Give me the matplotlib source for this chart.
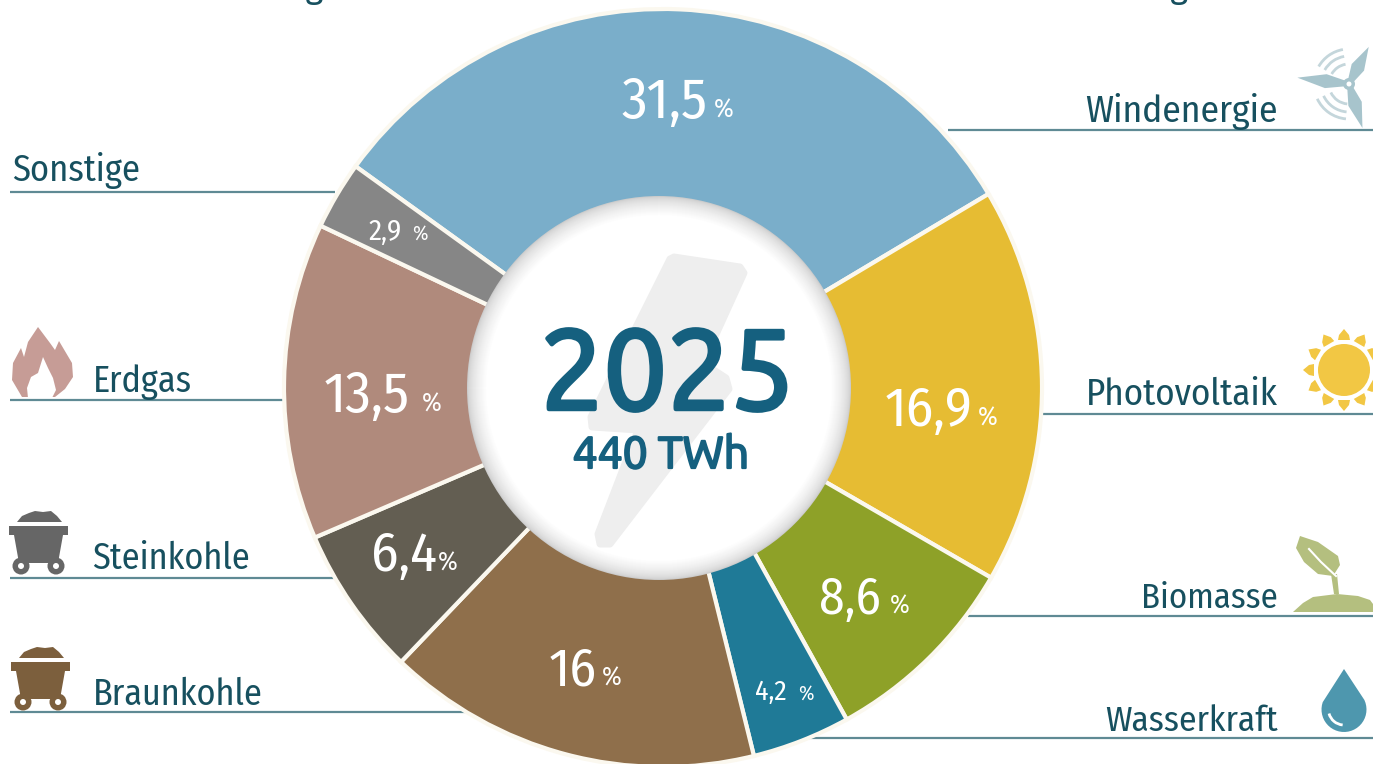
import matplotlib
matplotlib.use("Agg")
import matplotlib.pyplot as plt
import matplotlib.patheffects as pe
from matplotlib.patches import Polygon, Circle, Arc
import numpy as np

categories = ["Windenergie", "Photovoltaik", "Biomasse", "Wasserkraft",
              "Braunkohle", "Steinkohle", "Erdgas", "Sonstige"]
values = [31.5, 16.9, 8.6, 4.2, 16.0, 6.4, 13.5, 2.9]
value_labels = ["31,5", "16,9", "8,6", "4,2", "16", "6,4", "13,5", "2,9"]
colors = ["#7aaeca", "#e6bc33", "#8ea128", "#1f7a97", "#8f6f4b", "#635e52", "#b08a7c", "#868686"]
center_year = "2025"
center_total = "440 TWh"
group_headers = ["Fossile Energien", "Erneuerbare Energien"]

COND = "Fira Sans Condensed"
MAIN = "Ubuntu"
TEAL = "#17505f"
BLUE = "#15607f"
LINE = "#5f8a94"

W, H = 1373, 764
fig = plt.figure(figsize=(W/100, H/100), dpi=100, facecolor="white")
ax = fig.add_axes([0, 0, 1, 1])
def Y(y): return H - y

cx, cy, R = 663, 388, 379
dx, dy, r = 659, 388, 192

# leader lines
lines = [(10, 335, 192), (10, 284, 400), (10, 335, 578), (10, 465, 712),
         (948, 1373, 130), (1042, 1373, 414), (968, 1373, 616), (800, 1373, 738)]
for x0, x1, y in lines:
    ax.plot([x0, x1], [Y(y), Y(y)], color=LINE, lw=1.6, zorder=1, solid_capstyle="butt")

ax.pie(values, colors=colors, startangle=144.2, counterclock=False,
       center=(cx, Y(cy)), radius=R, frame=True,
       wedgeprops=dict(edgecolor="#fbf8ef", linewidth=3, zorder=2))
ax.set_xlim(0, W); ax.set_ylim(0, H); ax.axis("off")

# inner disc, grey at its rim and fading to white inward
n = 20
for i in range(n):
    g = 0.80 + 0.20 * (i / (n - 1)) ** 0.6
    ax.add_patch(Circle((dx, Y(dy)), r - i, fc=(g, g, g), ec="none", zorder=3 + i * 0.01))
ax.add_patch(Circle((dx, Y(dy)), r - n, fc="white", ec="none", zorder=4))

# lightning bolt watermark
bolt = [(674,257),(740,267),(744,273),(703,363),(726,378),(729,389),(610,544),(600,544),(598,534),
        (638,430),(592,427),(591,417),(670,259)]
ax.add_patch(Polygon([(x, Y(y)) for x, y in bolt], closed=True, fc="#eeeeee", ec="#eeeeee", lw=5, joinstyle="round", zorder=5))

ax.text(667, Y(409), center_year, fontsize=81, family=MAIN, color=BLUE, ha="center", va="baseline", zorder=6,
        path_effects=[pe.withStroke(linewidth=3.2, foreground=BLUE)])
ax.text(661, Y(468), center_total, fontsize=32, family=MAIN, color=BLUE, ha="center", va="baseline", zorder=6,
        path_effects=[pe.withStroke(linewidth=1.6, foreground=BLUE)])

# value labels: (number right edge, baseline, size, pct left, pct size)
lab = [(708,118,41,714,19),(972,426,40,978,19),(881,614,37,890,19),(787,700,20,798,15),
       (597,686,39,602,19),(437,571,40,438,19),(410,412,41,422,19),(402,240,21,412,15)]
for t, (xr, yb, fs, xp, ps) in zip(value_labels, lab):
    ax.text(xr, Y(yb), t, fontsize=fs, family=COND, color="white", ha="right", va="baseline", zorder=6)
    ax.text(xp, Y(yb), "%", fontsize=ps, family=COND, color="white", ha="left", va="baseline", zorder=6)

# category labels
cat_pos = {"Sonstige": (12,181,"left",26.2), "Erdgas": (93,392,"left",26), "Steinkohle": (92,569,"left",26),
           "Braunkohle": (93,705,"left",26), "Windenergie": (1278,122,"right",27),
           "Photovoltaik": (1278,405,"right",26.6), "Biomasse": (1278,608,"right",25), "Wasserkraft": (1278,731,"right",25.5)}
for name in categories:
    x, y, ha, fs = cat_pos[name]
    ax.text(x, Y(y), name, fontsize=fs, family=COND, color=TEAL, ha=ha, va="baseline", zorder=6)

# headers, cut off by the upper edge as in the source
ax.text(122, Y(-3), group_headers[0], fontsize=27, family=COND, color=TEAL, ha="left", va="baseline", zorder=6)
ax.text(903, Y(-3), group_headers[1], fontsize=27, family=COND, color=TEAL, ha="left", va="baseline", zorder=6)

# icons
def poly(pts, c, z=6):
    ax.add_patch(Polygon([(x, Y(y)) for x, y in pts], closed=True, fc=c, ec="none", zorder=z))
def circ(x, y, rad, c, z=6):
    ax.add_patch(Circle((x, Y(y)), rad, fc=c, ec="none", zorder=z))

def cart(x0, y0, c):
    poly([(x0+8,y0+12),(x0+13,y0+6),(x0+20,y0+3),(x0+26,y0+1),(x0+34,y0+2),(x0+42,y0+1),(x0+48,y0+6),(x0+53,y0+12)], c)
    poly([(x0,y0+16),(x0+59,y0+16),(x0+59,y0+25),(x0+54,y0+25),(x0+49,y0+53),(x0+10,y0+53),(x0+5,y0+25),(x0,y0+25)], c)
    for d in (12, 47):
        circ(x0+d, y0+56, 8.5, c, 7); circ(x0+d, y0+56, 3, "white", 8)
cart(9, 510, "#666666")
cart(11, 646, "#7c5f3d")

# flame
flame = [(38,327),(50,343),(55,350),(59,341),(72,363),(73,377),(65,389),(55,397),(22,397),
         (12,380),(13,363),(21,348),(24,357),(28,342)]
poly(flame, "#c69c96")
poly([(43,357),(48,368),(53,378),(56,390),(52,398),(28,398),(27,388),(31,377),(38,373)], "white", 7)

# turbine
hub = (1349, 84)
for ang, ln in ((173, 52), (62, 42), (-73, 46)):
    a = np.radians(ang)
    d = np.array([np.cos(a), -np.sin(a)]); nn = np.array([d[1], -d[0]])
    h = np.array(hub)
    poly([tuple(h+nn*2), tuple(h+d*ln*0.45+nn*7), tuple(h+d*ln), tuple(h+d*ln*0.45-nn*7), tuple(h-nn*2)], "#a7c4cc")
circ(*hub, 6, "#a7c4cc", 7); circ(*hub, 2.5, "white", 8)
for rad in (20, 28, 35):
    ax.add_patch(Arc((hub[0], Y(hub[1])), 2*rad, 2*rad, theta1=100, theta2=150, color="#c4d6db", lw=2, zorder=6))
    ax.add_patch(Arc((hub[0], Y(hub[1])), 2*rad, 2*rad, theta1=205, theta2=265, color="#c4d6db", lw=2, zorder=6))

# sun
sx, sy = 1344, 370
for a in np.arange(0, 360, 30):
    t = np.radians(a)
    d = np.array([np.cos(t), -np.sin(t)]); nn = np.array([d[1], -d[0]])
    c = np.array([sx, sy])
    poly([tuple(c+d*30+nn*6), tuple(c+d*35+nn*5), tuple(c+d*41), tuple(c+d*35-nn*5), tuple(c+d*30-nn*6)], "#f2c744")
circ(sx, sy, 26, "#f2c744")

# plant
GREEN = "#b4bf7f"
poly([(1293,612),(1303,603),(1313,597),(1337,594),(1358,596),(1370,600),(1373,604),(1373,612)], GREEN)
poly([(1331,574),(1337,574),(1339,594),(1334,594)], GREEN)
poly([(1300,536),(1318,542),(1338,556),(1340,565),(1333,576),(1318,574),(1304,562),(1296,548)], GREEN)
ax.plot([1309, 1321, 1336], [Y(549), Y(562), Y(576)], color="white", lw=1.5, zorder=7)

# drop
t = np.radians(np.arange(-25, 206, 8))
poly([(1344+22.5*np.cos(a), 709.5+22.5*np.sin(a)) for a in t] + [(1344,669)], "#4e97ae")
ax.add_patch(Arc((1344, Y(709.5)), 31, 31, theta1=195, theta2=265, color="white", lw=2, zorder=7))

fig.savefig("out.png", dpi=100)
